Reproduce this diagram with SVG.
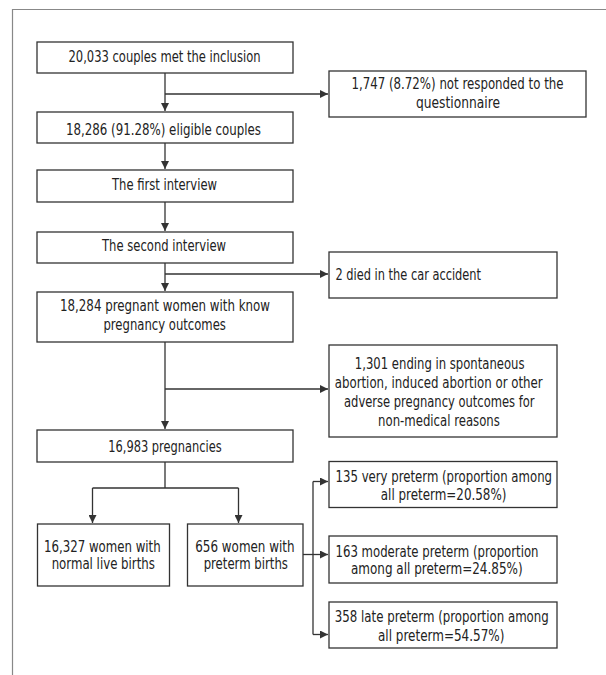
<svg xmlns="http://www.w3.org/2000/svg" width="606" height="675" viewBox="0 0 606 675">
<style>
.box{fill:#fff;stroke:#333;stroke-width:1.3}
text{font-family:"DejaVu Sans Condensed","Liberation Sans",sans-serif;font-size:15.5px;fill:#222;text-anchor:middle}
.l{text-anchor:start}
.c{fill:none;stroke:#333;stroke-width:1.3}
.frame{fill:none;stroke:#888;stroke-width:1.2}
</style>
<defs>
<marker id="ah" viewBox="0 0 10 10" refX="10" refY="5" markerWidth="9" markerHeight="8" markerUnits="userSpaceOnUse" orient="auto">
<path d="M0,0 L10,5 L0,10 Z" fill="#333"/>
</marker>
</defs>
<rect width="606" height="675" fill="#fff"/>
<path class="frame" d="M12.5,675 V9.5 H606"/>
<g id="connectors">
<path class="c" d="M165,73 V111" marker-end="url(#ah)"/>
<path class="c" d="M165,94 H328" marker-end="url(#ah)"/>
<path class="c" d="M165,143 V169" marker-end="url(#ah)"/>
<path class="c" d="M165,202 V231" marker-end="url(#ah)"/>
<path class="c" d="M165,263 V291" marker-end="url(#ah)"/>
<path class="c" d="M165,274 H328" marker-end="url(#ah)"/>
<path class="c" d="M165,342 V429" marker-end="url(#ah)"/>
<path class="c" d="M165,389 H328" marker-end="url(#ah)"/>
<path class="c" d="M165,462 V488 M92.5,488 H238.5"/>
<path class="c" d="M92.5,488 V523" marker-end="url(#ah)"/>
<path class="c" d="M238.5,488 V523" marker-end="url(#ah)"/>
<path class="c" d="M303,554.5 H328" marker-end="url(#ah)"/>
<path class="c" d="M313,481.5 V634.5"/>
<path class="c" d="M313,481.5 H328" marker-end="url(#ah)"/>
<path class="c" d="M313,634.5 H328" marker-end="url(#ah)"/>
</g>
<g id="n1"><rect class="box" x="37" y="42" width="256" height="31"/><text x="164.5" y="61.5" textLength="192" lengthAdjust="spacingAndGlyphs">20,033 couples met the inclusion</text></g>
<g id="n2"><rect class="box" x="329" y="71" width="257" height="46"/><text x="457.5" y="89" textLength="212" lengthAdjust="spacingAndGlyphs">1,747 (8.72%) not responded to the</text><text x="458" y="107.5" textLength="84" lengthAdjust="spacingAndGlyphs">questionnaire</text></g>
<g id="n3"><rect class="box" x="37" y="112" width="256" height="31"/><text x="163.5" y="135" textLength="195" lengthAdjust="spacingAndGlyphs">18,286 (91.28%) eligible couples</text></g>
<g id="n4"><rect class="box" x="37" y="170" width="256" height="32"/><text x="164.5" y="189.5" textLength="105" lengthAdjust="spacingAndGlyphs">The first interview</text></g>
<g id="n5"><rect class="box" x="37" y="232" width="256" height="31"/><text x="164" y="250.5" textLength="124" lengthAdjust="spacingAndGlyphs">The second interview</text></g>
<g id="n6"><rect class="box" x="329" y="252" width="228" height="46"/><text class="l" x="335.5" y="280" textLength="145.5" lengthAdjust="spacingAndGlyphs">2 died in the car accident</text></g>
<g id="n7"><rect class="box" x="37" y="292" width="256" height="50"/><text x="165" y="311" textLength="210" lengthAdjust="spacingAndGlyphs">18,284 pregnant women with know</text><text x="164.7" y="329.5" textLength="122.5" lengthAdjust="spacingAndGlyphs">pregnancy outcomes</text></g>
<g id="n8"><rect class="box" x="329" y="345" width="228" height="92"/><text x="439.7" y="368.5" textLength="169.7" lengthAdjust="spacingAndGlyphs">1,301 ending in spontaneous</text><text x="438.7" y="387.5" textLength="208" lengthAdjust="spacingAndGlyphs">abortion, induced abortion or other</text><text x="439.3" y="406.5" textLength="190.6" lengthAdjust="spacingAndGlyphs">adverse pregnancy outcomes for</text><text x="439" y="425.5" textLength="121.8" lengthAdjust="spacingAndGlyphs">non-medical reasons</text></g>
<g id="n9"><rect class="box" x="37" y="430" width="256" height="32"/><text x="165" y="452" textLength="113.3" lengthAdjust="spacingAndGlyphs">16,983 pregnancies</text></g>
<g id="n10"><rect class="box" x="37.5" y="524" width="132" height="62"/><text x="102.3" y="551.5" textLength="116.7" lengthAdjust="spacingAndGlyphs">16,327 women with</text><text x="103.3" y="569" textLength="103.3" lengthAdjust="spacingAndGlyphs">normal live births</text></g>
<g id="n11"><rect class="box" x="187.5" y="524" width="115.5" height="62"/><text x="244.9" y="551.5" textLength="99.3" lengthAdjust="spacingAndGlyphs">656 women with</text><text x="245.8" y="569" textLength="84.3" lengthAdjust="spacingAndGlyphs">preterm births</text></g>
<g id="n12"><rect class="box" x="329" y="461.5" width="228" height="46"/><text x="443.8" y="482" textLength="216.5" lengthAdjust="spacingAndGlyphs">135 very preterm (proportion among</text><text x="443.6" y="500" textLength="125.6" lengthAdjust="spacingAndGlyphs">all preterm=20.58%)</text></g>
<g id="n13"><rect class="box" x="329" y="536" width="228" height="47"/><text x="437" y="556.5" textLength="203" lengthAdjust="spacingAndGlyphs">163 moderate preterm (proportion</text><text x="436.8" y="574" textLength="171.6" lengthAdjust="spacingAndGlyphs">among all preterm=24.85%)</text></g>
<g id="n14"><rect class="box" x="329" y="602" width="228" height="46"/><text x="441.8" y="622" textLength="214" lengthAdjust="spacingAndGlyphs">358 late preterm (proportion among</text><text x="441.2" y="641" textLength="126.4" lengthAdjust="spacingAndGlyphs">all preterm=54.57%)</text></g>
</svg>
